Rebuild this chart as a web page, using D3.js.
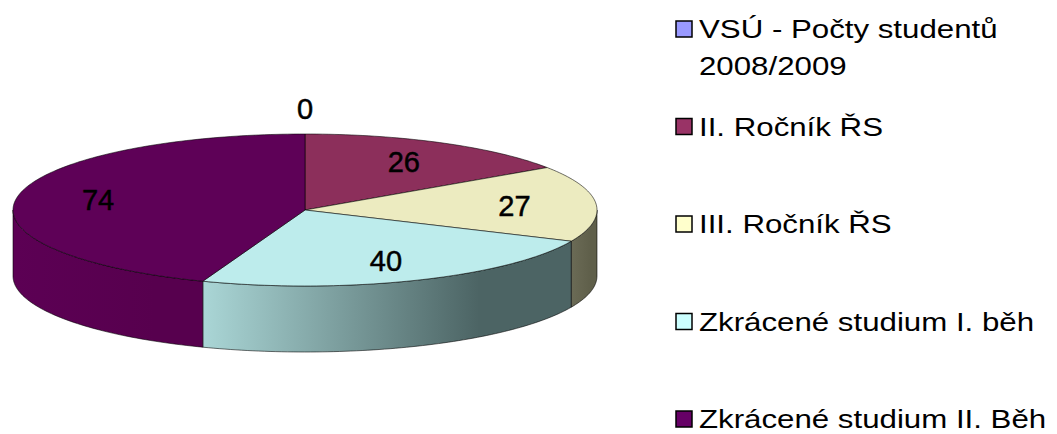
<!DOCTYPE html>
<html>
<head>
<meta charset="utf-8">
<script src="https://cdn.jsdelivr.net/npm/d3@7"></script>
<style>
  body { margin: 0; background: #fff; }
  svg { display: block; font-family: "Liberation Sans", Arial, sans-serif; }
</style>
</head>
<body>
<svg width="1057" height="434"></svg>
<script>
var categories = ["VSÚ - Počty studentů 2008/2009", "II. Ročník ŘS", "III. Ročník ŘS",
                  "Zkrácené studium I. běh", "Zkrácené studium II. Běh"];
var values = [0, 26, 27, 40, 74];
var legendColors = ["#9999ff", "#993366", "#ffffcc", "#ccffff", "#660066"];
var topColors = ["#9999ff", "#8c2f5b", "#ecebc0", "#bdecec", "#5e0157"];
var sideColors = [["#7a7acc", "#5c5c99"], ["#7a2952", "#5c1f3d"], ["#6b6b56", "#5f5f4a"],
                  ["#aad6d6", "#4c6464"], ["#5c0054", "#57004e"]];

var svg = d3.select("svg"),
    cx = 305, cy = 210,
    rx = 292, ry = 76,
    depth = 66;

var pie = d3.pie().sort(null).value(function(d) { return d; });
var arcs = pie(values);

function pt(a, k, dy) {
  return [cx + rx * k * Math.sin(a), cy - ry * k * Math.cos(a) + (dy || 0)];
}

function arcPoints(a0, a1, dy) {
  var n = Math.max(2, Math.ceil(Math.abs(a1 - a0) / 0.02));
  return d3.range(n + 1).map(function(i) { return pt(a0 + (a1 - a0) * i / n, 1, dy); });
}

var line = d3.line();
var defs = svg.append("defs");
var g = svg.append("g");

// side walls (only the front half is visible)
arcs.forEach(function(d, i) {
  var a0 = Math.max(d.startAngle, Math.PI / 2),
      a1 = Math.min(d.endAngle, 3 * Math.PI / 2);
  if (a0 >= a1) return;
  var top = arcPoints(a0, a1, 0),
      bottom = arcPoints(a1, a0, depth);
  var xs = top.map(function(p) { return p[0]; });

  var grad = defs.append("linearGradient")
      .attr("id", "side" + i)
      .attr("gradientUnits", "userSpaceOnUse")
      .attr("x1", d3.min(xs)).attr("y1", 0)
      .attr("x2", d3.max(xs)).attr("y2", 0);
  grad.append("stop").attr("offset", 0).attr("stop-color", sideColors[i][0]);
  grad.append("stop").attr("offset", 0.75).attr("stop-color", sideColors[i][1]);

  g.append("path")
      .attr("d", line(top.concat(bottom)) + "Z")
      .attr("fill", "url(#side" + i + ")")
      .attr("stroke", "#000")
      .attr("stroke-opacity", 0.7)
      .attr("stroke-width", 0.8);
});

// top faces
g.selectAll(".top")
    .data(arcs)
  .enter().append("path")
    .attr("class", "top")
    .attr("d", function(d) {
      return line([[cx, cy]].concat(arcPoints(d.startAngle, d.endAngle, 0))) + "Z";
    })
    .attr("fill", function(d, i) { return topColors[i]; })
    .attr("stroke", "#000")
    .attr("stroke-opacity", 0.7)
    .attr("stroke-width", 0.8)
    .attr("stroke-linejoin", "round");

// data labels
g.selectAll(".label")
    .data(arcs)
  .enter().append("text")
    .attr("class", "label")
    .attr("x", function(d) {
      var m = (d.startAngle + d.endAngle) / 2;
      return d.value === 0 ? pt(m, 1)[0] : pt(m, 0.72)[0];
    })
    .attr("y", function(d) {
      var m = (d.startAngle + d.endAngle) / 2;
      return d.value === 0 ? pt(m, 1)[1] - 25 : pt(m, 0.72)[1];
    })
    .attr("dy", "0.35em")
    .attr("text-anchor", "middle")
    .style("font-size", "29px")
    .attr("fill", "#000")
    .attr("stroke", "#000")
    .attr("stroke-width", 0.5)
    .text(function(d) { return d.value; });

// legend (text is drawn a bit stretched, as in the original)
var ly = d3.scalePoint().domain(categories).range([38, 428]);

var item = svg.append("g")
  .selectAll("g")
    .data(categories)
  .enter().append("g")
    .attr("transform", function(d) { return "translate(676," + ly(d) + ")"; });

item.append("rect")
    .attr("x", 0)
    .attr("y", -17)
    .attr("width", 16)
    .attr("height", 16)
    .attr("fill", function(d, i) { return legendColors[i]; })
    .attr("stroke", "#000")
    .attr("stroke-width", 1.5);

item.append("text")
    .attr("transform", "translate(23,0) scale(1.25,1)")
    .style("font-size", "25px")
    .attr("fill", "#000")
    .each(function(d) {
      var text = d3.select(this),
          words = d.split(" "),
          cur = [],
          tspan = text.append("tspan").attr("x", 0).attr("dy", 0);
      words.forEach(function(w) {
        cur.push(w);
        tspan.text(cur.join(" "));
        if (tspan.node().getComputedTextLength() > 290 && cur.length > 1) {
          cur.pop();
          tspan.text(cur.join(" "));
          cur = [w];
          tspan = text.append("tspan").attr("x", 0).attr("dy", 37).text(w);
        }
      });
    });
</script>
</body>
</html>
